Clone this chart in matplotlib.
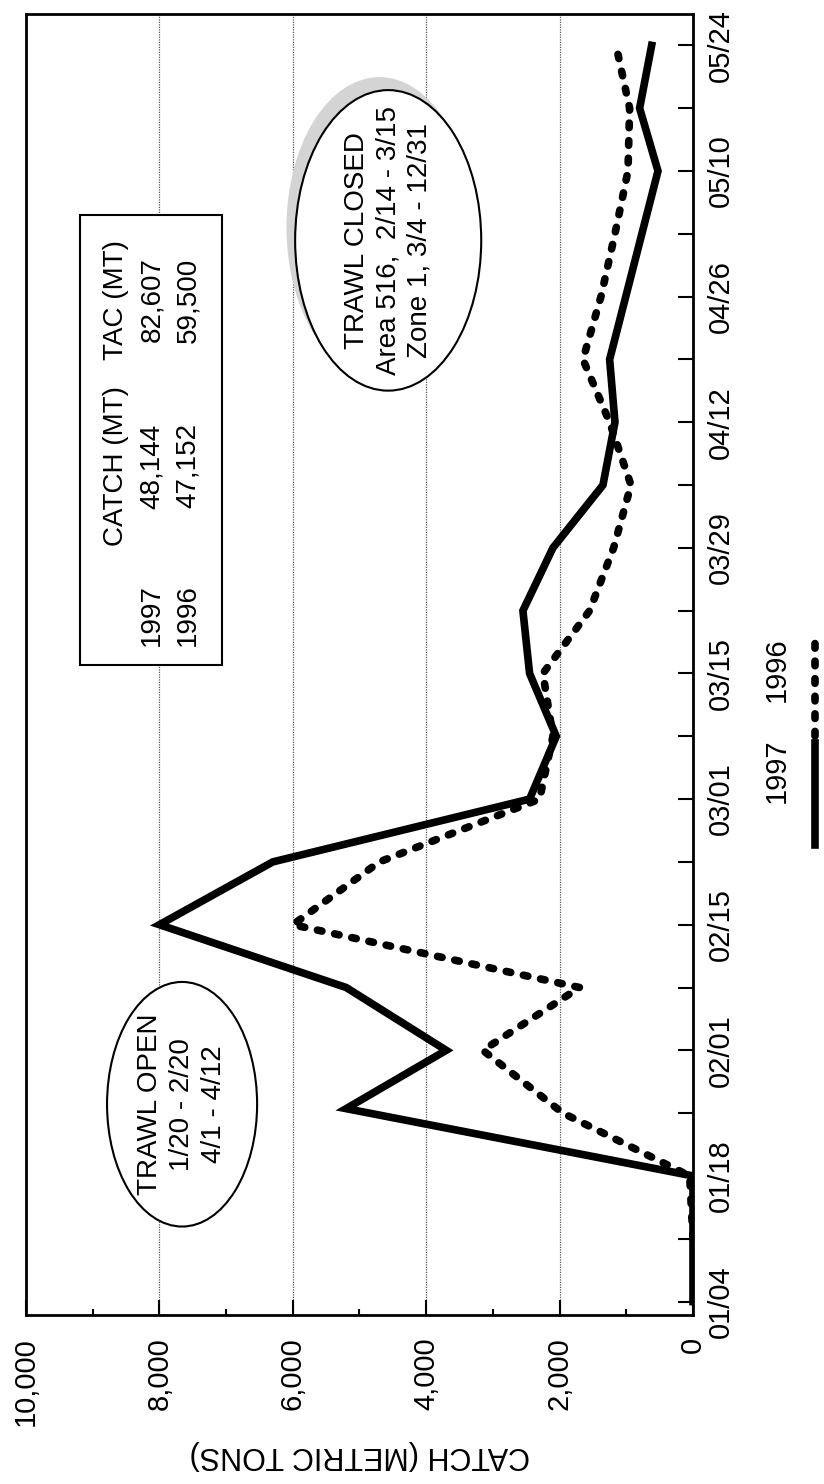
import matplotlib
matplotlib.use('Agg')
import matplotlib.pyplot as plt
from matplotlib.patches import Ellipse, Rectangle
from matplotlib.lines import Line2D

plt.rcParams['font.family'] = ['Liberation Sans', 'DejaVu Sans']

# days are counted from 01/04
date_ticks = [0, 14, 28, 42, 56, 70, 84, 98, 112, 126, 140]
date_labels = ['01/04', '01/18', '02/01', '02/15', '03/01', '03/15',
               '03/29', '04/12', '04/26', '05/10', '05/24']
catch_ticks = [0, 2000, 4000, 6000, 8000, 10000]
catch_labels = ['0', '2,000', '4,000', '6,000', '8,000', '10,000']

days_1997 = [0, 14, 21.5, 28, 35, 42, 49, 56, 63, 70, 77, 84, 91, 98, 105, 126, 133, 140]
catch_1997 = [0, 0, 5200, 3700, 5200, 8000, 6300, 2450, 2050, 2450, 2550, 2100,
              1350, 1170, 1250, 525, 800, 620]

days_1996 = [7, 14, 21, 28, 35, 42, 49, 56, 63, 70, 77, 84, 91, 98, 105, 112,
             119, 126, 133, 139]
catch_1996 = [0, 50, 1950, 3150, 1700, 6000, 4700, 2300, 2100, 2250, 1550, 1190,
              930, 1250, 1650, 1380, 1170, 975, 950, 1125]

table_years = ['1997', '1996']
table_catch = ['48,144', '47,152']
table_tac = ['82,607', '59,500']

# the chart is printed on its side: catch runs right to left, dates bottom to top
fig = plt.figure(figsize=(8.24, 14.84), dpi=100)
ax = fig.add_axes([26 / 824, 169 / 1484, 667 / 824, 1301 / 1484])

ax.plot(catch_1997, days_1997, color='black', lw=5.5, solid_joinstyle='miter')
ax.plot(catch_1996, days_1996, color='black', lw=5.5, linestyle=(0, (0.6, 1.7)),
        dash_capstyle='round')

ax.set_xlim(10000, 0)
ax.set_ylim(-1.5, 143.5)

ax.set_xticks(catch_ticks)
ax.set_xticklabels(catch_labels, rotation=90)
ax.set_xticks(range(1000, 10000, 2000), minor=True)
ax.tick_params(axis='x', which='major', direction='in', length=11, width=1.5,
               pad=16, labelsize=21)
ax.tick_params(axis='x', which='minor', direction='in', length=4, width=1.5)

ax.yaxis.tick_right()
ax.set_yticks(date_ticks)
ax.set_yticklabels(date_labels, rotation=90, va='center')
ax.set_yticks(range(7, 140, 14), minor=True)
ax.tick_params(axis='y', which='both', direction='in', length=11, width=1.5,
               pad=10, labelsize=21)
ax.tick_params(left=False, top=False, which='both')

ax.set_xlabel('CATCH (METRIC TONS)', rotation=180, fontsize=22, labelpad=10)

ax.grid(axis='x', which='major', linestyle=(0, (1, 1)), lw=0.9, color='#555555')
for s in ax.spines.values():
    s.set_linewidth(2)

tr = ax.transAxes

# catch / TAC box (columns run upward because of the rotation)
ax.add_patch(Rectangle((0.081, 0.4996), 0.213, 0.3459, transform=tr, facecolor='white',
                       edgecolor='black', lw=1.5, zorder=3))
ax.text(0.135, 0.6526, 'CATCH (MT)', transform=tr, rotation=90, ha='center',
        va='center', fontsize=20, zorder=4)
ax.text(0.135, 0.7802, 'TAC (MT)', transform=tr, rotation=90, ha='center',
        va='center', fontsize=20, zorder=4)
for i in range(2):
    xc = 0.189 + i * 0.054
    ax.text(xc, 0.538, table_years[i], transform=tr, rotation=90, ha='center',
            va='center', fontsize=20, zorder=4)
    ax.text(xc, 0.6526, table_catch[i], transform=tr, rotation=90, ha='center',
            va='center', fontsize=20, zorder=4)
    ax.text(xc, 0.7802, table_tac[i], transform=tr, rotation=90, ha='center',
            va='center', fontsize=20, zorder=4)

# TRAWL OPEN
ax.add_patch(Ellipse((0.234, 0.162), 0.225, 0.188, transform=tr, facecolor='white',
                     edgecolor='black', lw=1.5, zorder=3))
ax.text(0.234, 0.162, 'TRAWL OPEN\n1/20 - 2/20\n4/1 - 4/12', transform=tr,
        rotation=90, ha='center', va='center', multialignment='center',
        fontsize=20, linespacing=1.3, zorder=4)

# TRAWL CLOSED with grey shadow
ax.add_patch(Ellipse((0.530, 0.836), 0.279, 0.231, transform=tr, facecolor='#d4d4d4',
                     edgecolor='none', zorder=2))
ax.add_patch(Ellipse((0.543, 0.826), 0.279, 0.231, transform=tr, facecolor='white',
                     edgecolor='black', lw=1.5, zorder=3))
ax.text(0.543, 0.826, 'TRAWL CLOSED\nArea 516,  2/14 - 3/15\nZone 1, 3/4 - 12/31',
        transform=tr, rotation=90, ha='center', va='center', multialignment='center',
        fontsize=20, linespacing=1.25, zorder=4)

# legend, also on its side
ax.text(1.126, 0.418, '1997', transform=tr, rotation=90, ha='center', va='center',
        fontsize=21, clip_on=False)
ax.text(1.126, 0.496, '1996', transform=tr, rotation=90, ha='center', va='center',
        fontsize=21, clip_on=False)
ax.add_line(Line2D([1.183, 1.183], [0.361, 0.440], transform=tr, color='black',
                   lw=5.5, clip_on=False))
ax.add_line(Line2D([1.183, 1.183], [0.445, 0.526], transform=tr, color='black',
                   lw=5.5, linestyle=(0, (0.6, 1.7)), dash_capstyle='round',
                   clip_on=False))

fig.savefig('out.png', dpi=100)
